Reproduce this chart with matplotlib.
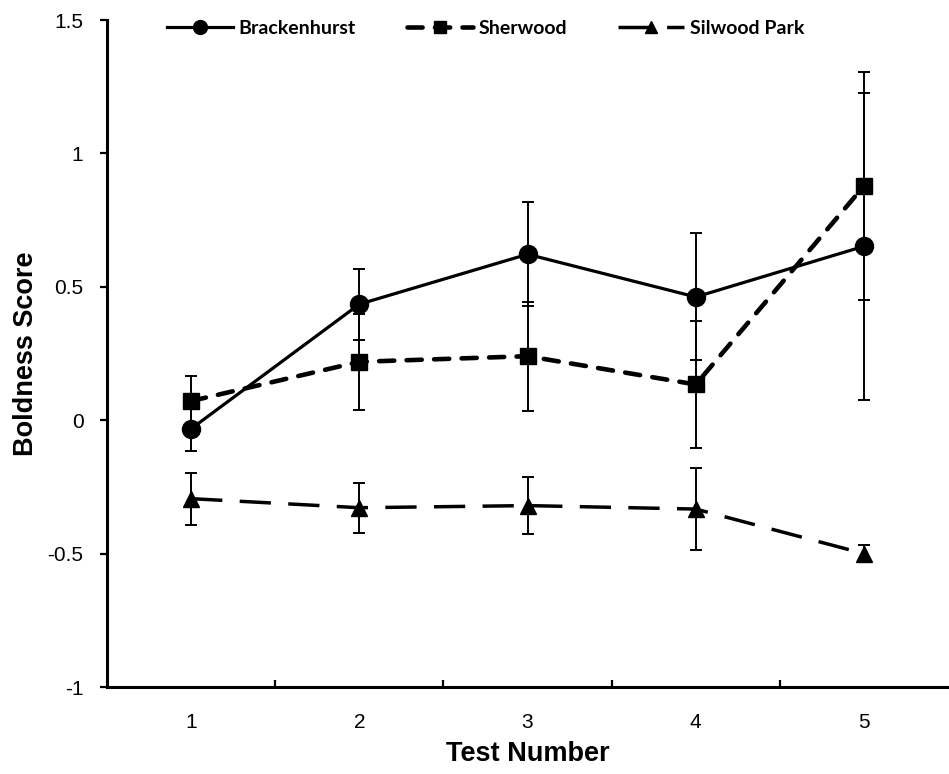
import matplotlib
matplotlib.use("Agg")
import matplotlib.pyplot as plt
from matplotlib.lines import Line2D
from matplotlib.ticker import FixedLocator

# Mean boldness score per test, with error bars
tests = [1, 2, 3, 4, 5]

brackenhurst = [-0.032, 0.435, 0.622, 0.462, 0.652]
brackenhurst_err = [0.085, 0.133, 0.195, 0.238, 0.576]

sherwood = [0.072, 0.219, 0.240, 0.134, 0.878]
sherwood_err = [0.093, 0.180, 0.205, 0.238, 0.428]

silwood = [-0.294, -0.328, -0.320, -0.333, -0.500]
silwood_err = [0.097, 0.094, 0.107, 0.155, 0.032]

y_ticks = [-1, -0.5, 0, 0.5, 1, 1.5]
y_labels = ["-1", "-0.5", "0", "0.5", "1", "1.5"]

plt.rcParams["font.family"] = ["Liberation Sans", "DejaVu Sans"]

fig = plt.figure(figsize=(9.49, 7.74), dpi=100)
ax = fig.add_axes([0.1128, 0.1124, 0.8862, 0.8617])

err_style = dict(ecolor="black", elinewidth=1.4, capsize=4.3, capthick=1.4)

bracken_style = dict(color="black", linestyle="-", linewidth=2.3,
                     marker="o", markersize=13)
sherwood_style = dict(color="black", linestyle=(0, (3.3, 2.7)), linewidth=3.3,
                      dash_capstyle="round", marker="s", markersize=11)
silwood_style = dict(color="black", linestyle=(0, (9, 5)), linewidth=2.5,
                     marker="^", markersize=12)

ax.errorbar(tests, silwood, yerr=silwood_err, zorder=3,
            **silwood_style, **err_style)
ax.errorbar(tests, sherwood, yerr=sherwood_err, zorder=3,
            **sherwood_style, **err_style)
ax.errorbar(tests, brackenhurst, yerr=brackenhurst_err, zorder=4,
            **bracken_style, **err_style)

ax.set_xlim(0.5, 5.5)
ax.set_ylim(-1, 1.5)

ax.set_yticks(y_ticks)
ax.set_yticklabels(y_labels)
ax.set_xticks(tests)
ax.xaxis.set_minor_locator(FixedLocator([1.5, 2.5, 3.5, 4.5]))

ax.tick_params(axis="y", direction="out", length=5, width=1.6,
               labelsize=15, pad=12)
ax.tick_params(axis="x", which="major", length=0, labelsize=15, pad=19)
ax.tick_params(axis="x", which="minor", direction="in", length=5, width=1.6)

for side in ["top", "right"]:
    ax.spines[side].set_visible(False)
for side in ["left", "bottom"]:
    ax.spines[side].set_linewidth(2.2)

ax.set_xlabel("Test Number", fontsize=19.5, fontweight="bold", labelpad=6)
ax.set_ylabel("Boldness Score", fontsize=19.5, fontweight="bold", labelpad=6)

# legend handles without the error bar glyphs
handles = [
    Line2D([], [], **{**bracken_style, "markersize": 10}),
    Line2D([], [], **{**sherwood_style, "markersize": 9}),
    Line2D([], [], **{**silwood_style, "markersize": 9}),
]
labels = ["Brackenhurst", "Sherwood", "Silwood Park"]
ax.legend(handles, labels, loc="center", bbox_to_anchor=(0.45, 0.987),
          ncol=3, frameon=False, handlelength=3.4, handletextpad=0.3,
          columnspacing=2.6,
          prop={"family": "Lato", "weight": "bold", "size": 14})

fig.savefig("out.png", dpi=100)
